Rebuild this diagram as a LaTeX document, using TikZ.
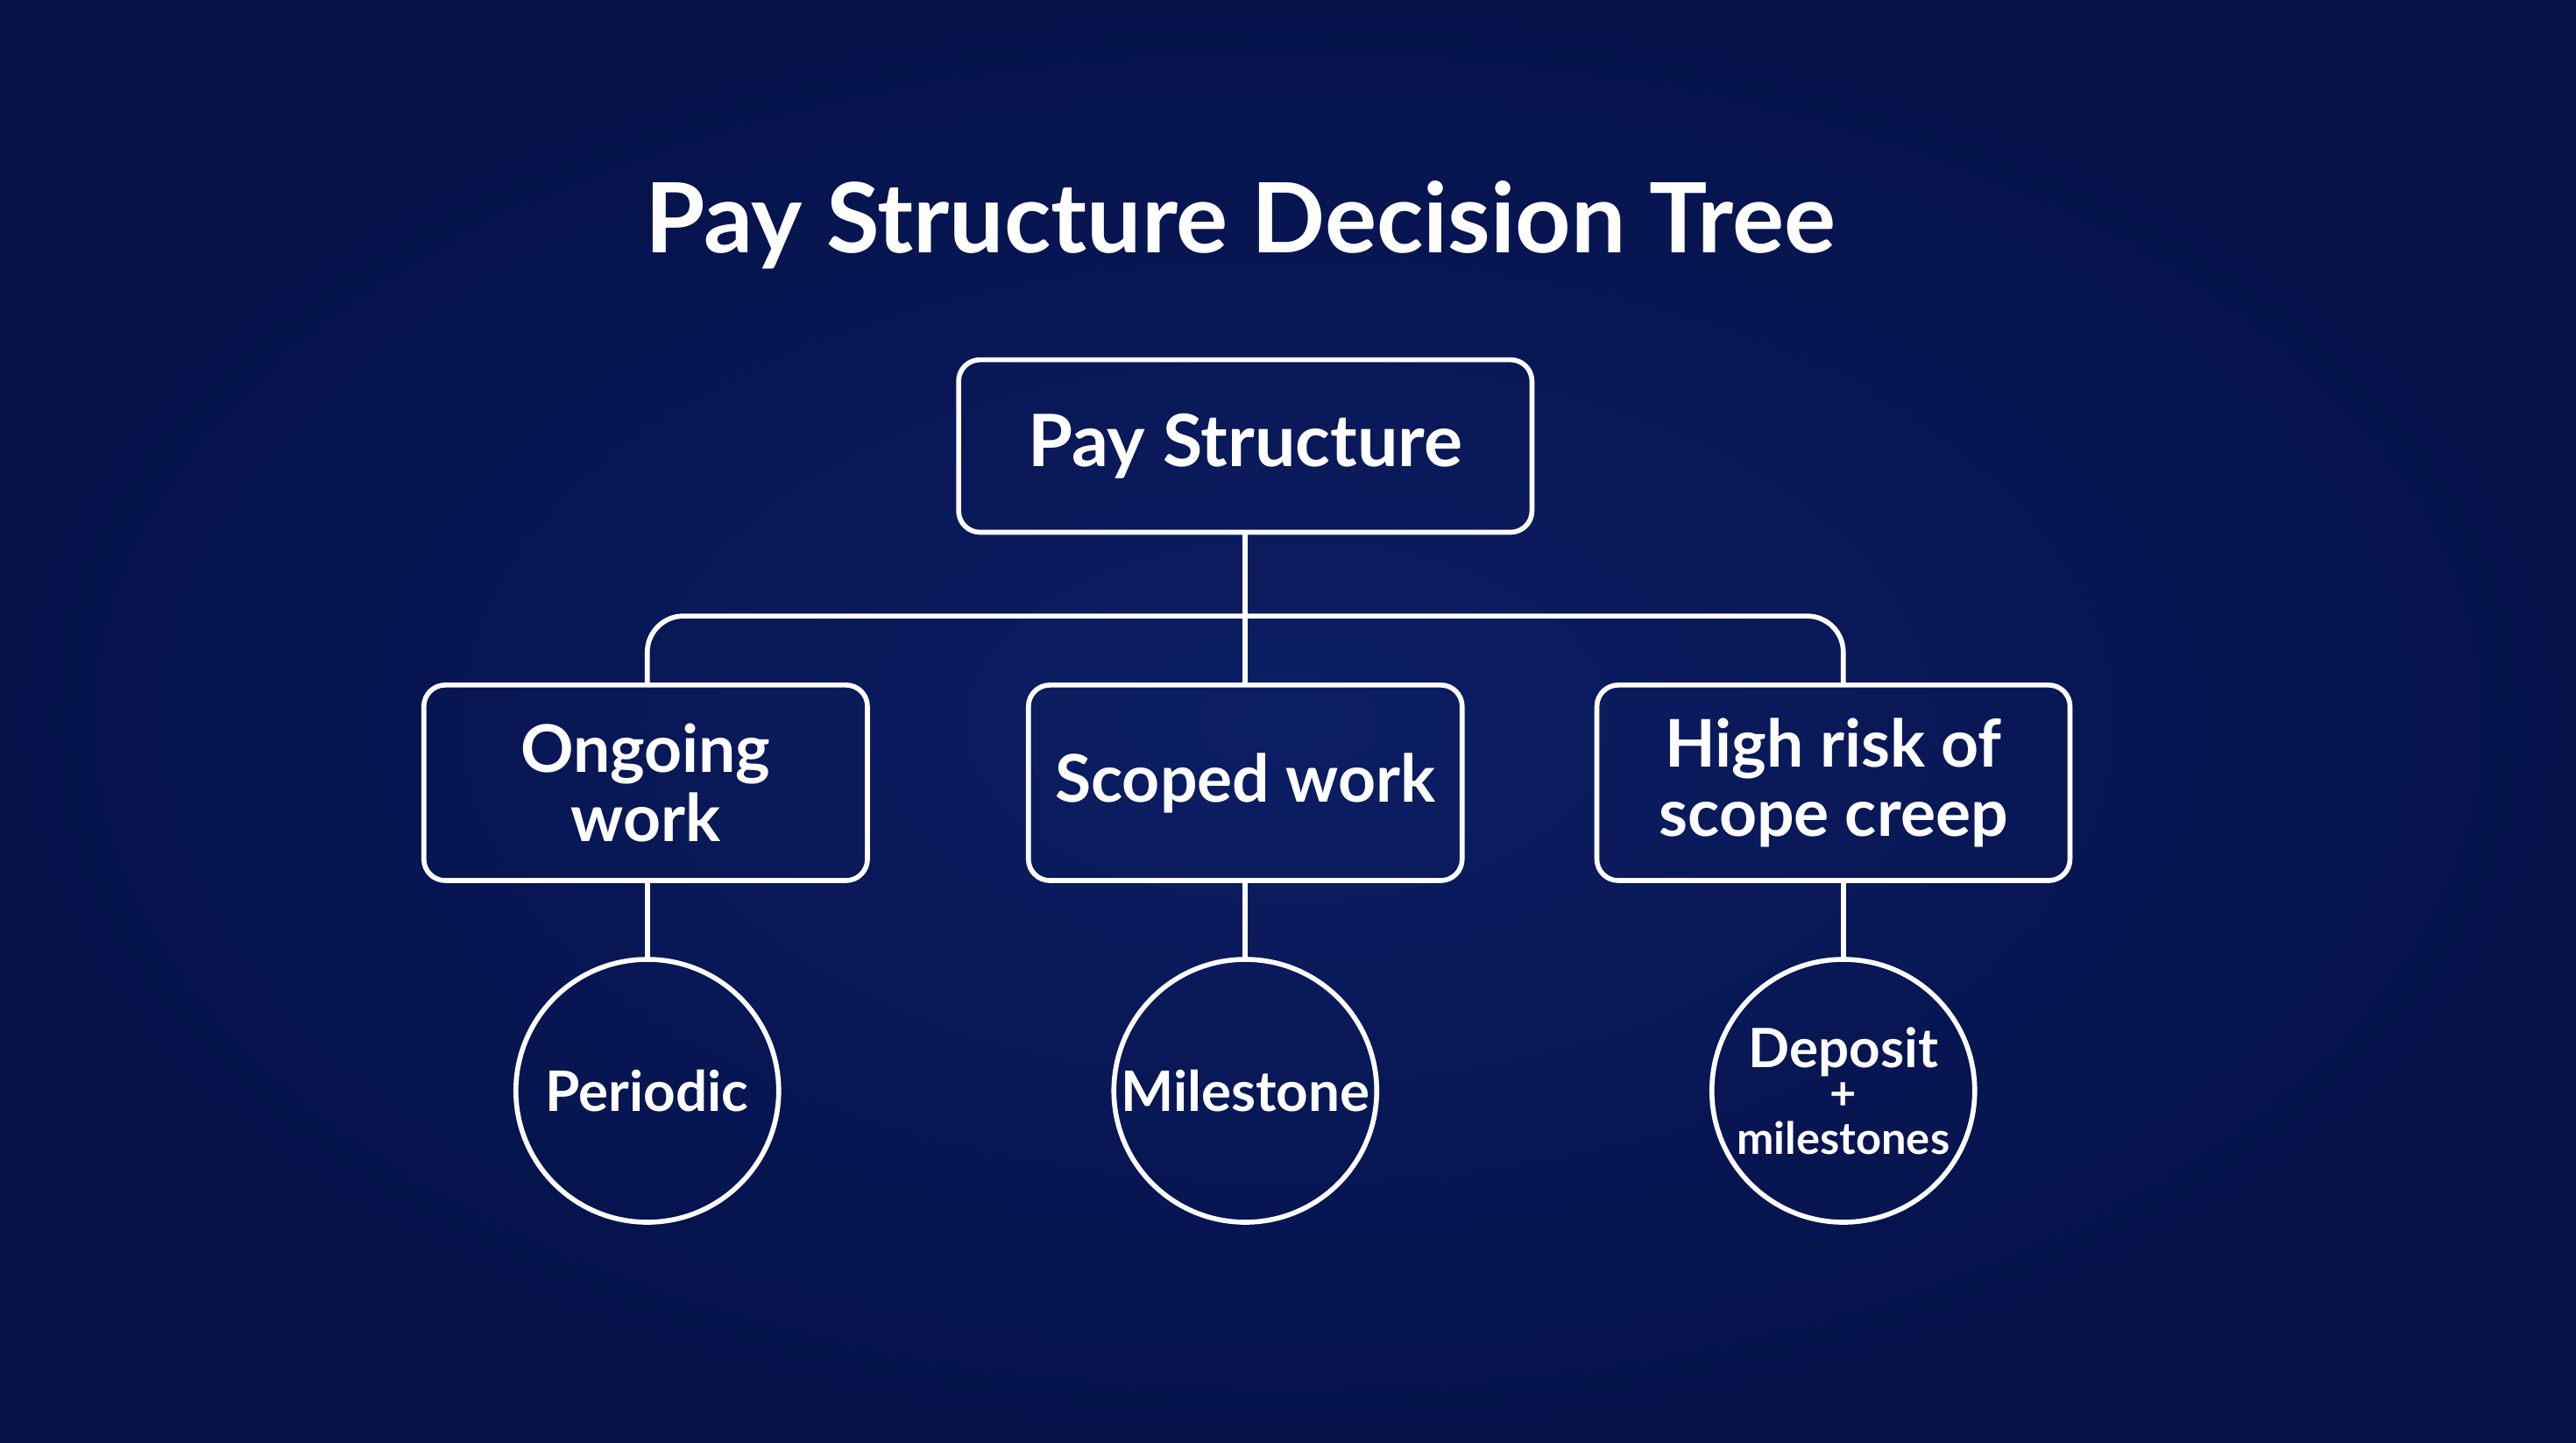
\documentclass[tikz,border=0pt]{standalone}
\usepackage{fontspec}
\setmainfont{Lato}
\definecolor{bgA}{RGB}{12,30,100}
\definecolor{bgB}{RGB}{5,18,74}
\begin{document}
\begin{tikzpicture}[x=1pt,y=-1pt,
  box/.style={draw=white,line width=3pt,rounded corners=13pt,text=white,align=center,font=\bfseries\fontsize{40}{42}\selectfont,inner sep=0pt},
  circ/.style={draw=white,line width=3pt,circle,minimum size=160pt,text=white,align=center,inner sep=0pt,font=\bfseries\fontsize{34}{36}\selectfont},
  ln/.style={draw=white,line width=3pt}]
\shade[inner color=bgA,outer color=bgB] (0,0) rectangle (1568,878);
\useasboundingbox (0,0) rectangle (1568,878);
\node[text=white,font=\bfseries\fontsize{59}{62}\selectfont] (title) at (755,137) {Pay Structure Decision Tree};
\node[box,minimum width=349pt,minimum height=105pt,font=\bfseries\fontsize{44}{46}\selectfont] (root) at (758,271.5) {Pay Structure};
\node[box,minimum width=270pt,minimum height=119pt] (b1) at (393,476.5) {Ongoing\\work};
\node[box,minimum width=264pt,minimum height=119pt] (b2) at (758,476.5) {Scoped work};
\node[box,minimum width=288pt,minimum height=119pt] (b3) at (1116,476.5) {High risk of\\scope creep};
\node[circ] (c1) at (394,664) {Periodic};
\node[circ] (c2) at (758,664) {Milestone};
\node[circ] (c3) at (1122,664) {\fontsize{33}{30}\selectfont Deposit\\[-10pt]\fontsize{28}{28}\selectfont+\\[-9pt]\fontsize{27}{28}\selectfont milestones};
\coordinate (j) at (758,375);
\draw[ln] (root.south) -- (j);
\draw[ln,rounded corners=22pt] (394,417) -- (394,375) -- (1122,375) -- (1122,417);
\draw[ln] (j) -- (b2.north);
\draw[ln] (b1.south -| c1) -- (c1.north);
\draw[ln] (b2.south) -- (c2.north);
\draw[ln] (b3.south -| c3) -- (c3.north);
\end{tikzpicture}
\end{document}
